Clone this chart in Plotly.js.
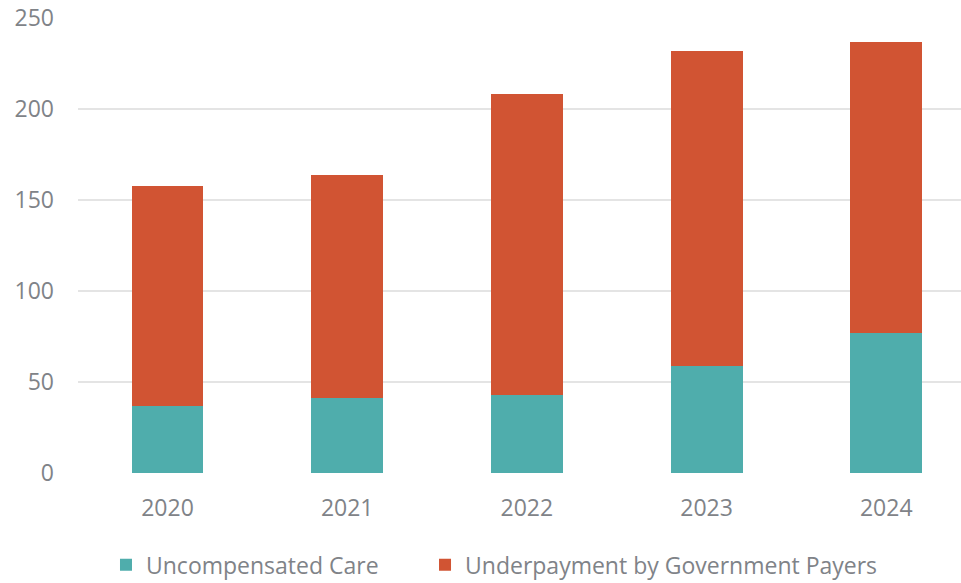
<!DOCTYPE html>
<html>
<head>
<meta charset="utf-8">
<script src="https://cdn.plot.ly/plotly-3.0.1.min.js"></script>
<style>
html,body{margin:0;padding:0;background:#fff;}
#chart{width:961px;height:583px;}
</style>
</head>
<body>
<div id="chart"></div>
<script>
const years = ["2020", "2021", "2022", "2023", "2024"];
const uncompensatedCare = [36.8, 41.2, 42.9, 58.6, 77.1];
const underpaymentGov = [121.1, 122.5, 165.2, 173.0, 159.7];
const yTicks = [0, 50, 100, 150, 200, 250];

const fontFam = "'Open Sans', 'Liberation Sans', sans-serif";
const gray = "#7f8388";

const traces = [
  {type: "bar", name: "Uncompensated Care", x: years, y: uncompensatedCare,
   marker: {color: "#4FADAC"}, width: 0.4, hoverinfo: "skip", legend: "legend"},
  {type: "bar", name: "Underpayment by Government Payers", x: years, y: underpaymentGov,
   marker: {color: "#D15433"}, width: 0.4, hoverinfo: "skip", legend: "legend2"}
];

const legendBase = {orientation: "h", xanchor: "left", yanchor: "middle", y: -0.2015,
  font: {size: 23, color: gray}, bgcolor: "rgba(0,0,0,0)", itemclick: false};

const layout = {
  width: 961, height: 583,
  barmode: "stack",
  paper_bgcolor: "#fff", plot_bgcolor: "#fff",
  margin: {l: 78, r: 0, t: 17.5, b: 110.3, pad: 0, autoexpand: false},
  font: {family: fontFam, color: gray, size: 22},
  xaxis: {type: "category", range: [-0.498, 4.416], showgrid: false, zeroline: false,
          showline: false, ticks: "", tickfont: {size: 23, color: gray},
          ticklabelstandoff: 19, automargin: false},
  yaxis: {range: [0, 250], tickvals: yTicks, ticktext: yTicks.map(String),
          showgrid: true, gridcolor: "#e4e4e4", gridwidth: 1.6, zeroline: false,
          showline: false, ticks: "", tickfont: {size: 23, color: gray},
          ticklabelstandoff: 23, automargin: false},
  showlegend: true,
  legend: Object.assign({}, legendBase, {x: 0.0317}),
  legend2: Object.assign({}, legendBase, {x: 0.393})
};

Plotly.newPlot("chart", traces, layout, {displayModeBar: false, staticPlot: true});
</script>
</body>
</html>
